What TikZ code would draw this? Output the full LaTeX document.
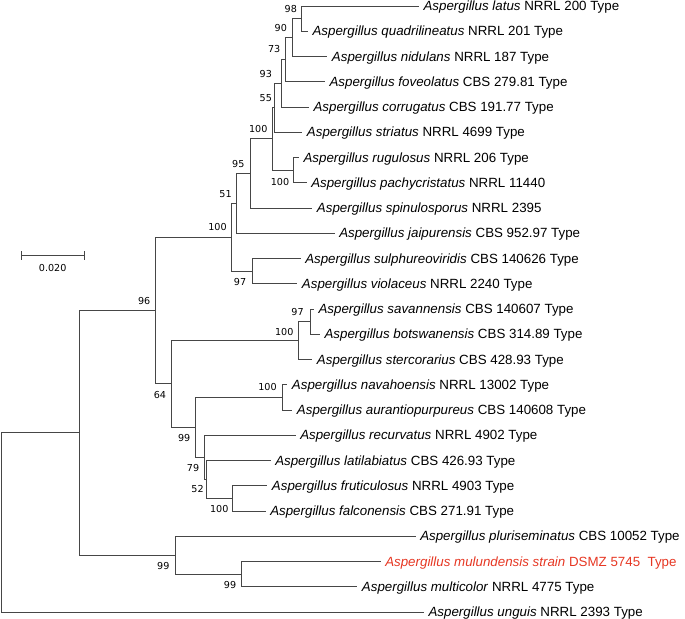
\documentclass[tikz,border=0pt]{standalone}
\usepackage{fontspec}
\setmainfont{Liberation Sans}
\newfontfamily\lblfont{DejaVu Sans}
\definecolor{mred}{RGB}{230,55,35}
\definecolor{branch}{RGB}{70,70,70}
\begin{document}
\begin{tikzpicture}[x=0.75pt,y=-0.75pt,
  br/.style={draw=branch,line width=0.75pt,line cap=rect},
  taxon/.style={anchor=base west,inner sep=0pt,font=\fontsize{10}{12}\selectfont},
  bs/.style={inner sep=0pt,font=\lblfont\fontsize{7.2}{8}\selectfont}]
\useasboundingbox (0,0) rectangle (685,618);
% leaf ends
\coordinate (L1) at (418.3,6);
\coordinate (L2) at (307.3,31.25);
\coordinate (L3) at (326.7,56.5);
\coordinate (L4) at (324.3,81.75);
\coordinate (L5) at (308.3,107);
\coordinate (L6) at (301.7,132.25);
\coordinate (L7) at (298.3,157.5);
\coordinate (L8) at (306,182.75);
\coordinate (L9) at (311.7,208);
\coordinate (L10) at (334,233.25);
\coordinate (L11) at (300,258.5);
\coordinate (L12) at (296.7,283.75);
\coordinate (L13) at (313.3,309);
\coordinate (L14) at (319.3,334.25);
\coordinate (L15) at (311.7,359.5);
\coordinate (L16) at (286.7,384.75);
\coordinate (L17) at (291.7,410);
\coordinate (L18) at (295,435.25);
\coordinate (L19) at (270,460.5);
\coordinate (L20) at (266.7,485.75);
\coordinate (L21) at (265,511);
\coordinate (L22) at (415,536.25);
\coordinate (L23) at (380,561.5);
\coordinate (L24) at (356.7,586.75);
\coordinate (L25) at (423.3,612);
% internal nodes (x, stem y)
\coordinate (A) at (301.7,18.625);
\coordinate (B) at (292.7,37.56);
\coordinate (C) at (285.7,59.66);
\coordinate (D) at (281.7,83.33);
\coordinate (E) at (274.3,107.79);
\coordinate (G) at (293.3,170.125);
\coordinate (F) at (272.7,138.96);
\coordinate (N95) at (250,173.48);
\coordinate (N51) at (236.7,203.36);
\coordinate (N97a) at (252,271.125);
\coordinate (N100a) at (231.3,237.24);
\coordinate (N97b) at (310,321.625);
\coordinate (N100b) at (298,340.56);
\coordinate (N100c) at (282.7,397.375);
\coordinate (N100d) at (232.7,498.375);
\coordinate (N52) at (206,479.44);
\coordinate (N79) at (204.3,457.34);
\coordinate (N99a) at (195.7,427.36);
\coordinate (N64) at (171.7,383.96);
\coordinate (N96) at (155.7,310.6);
\coordinate (N99c) at (241.7,574.125);
\coordinate (N99b) at (175.7,555.19);
\coordinate (Ning) at (79.3,432.9);
\coordinate (Root) at (1.5,522.45);
% branches
\draw[br] (A) |- (L1); \draw[br] (A) |- (L2);
\draw[br] (B) |- (A); \draw[br] (B) |- (L3);
\draw[br] (C) |- (B); \draw[br] (C) |- (L4);
\draw[br] (D) |- (C); \draw[br] (D) |- (L5);
\draw[br] (E) |- (D); \draw[br] (E) |- (L6);
\draw[br] (G) |- (L7); \draw[br] (G) |- (L8);
\draw[br] (F) |- (E); \draw[br] (F) |- (G);
\draw[br] (N95) |- (F); \draw[br] (N95) |- (L9);
\draw[br] (N51) |- (N95); \draw[br] (N51) |- (L10);
\draw[br] (N97a) |- (L11); \draw[br] (N97a) |- (L12);
\draw[br] (N100a) |- (N51); \draw[br] (N100a) |- (N97a);
\draw[br] (N97b) |- (L13); \draw[br] (N97b) |- (L14);
\draw[br] (N100b) |- (N97b); \draw[br] (N100b) |- (L15);
\draw[br] (N100c) |- (L16); \draw[br] (N100c) |- (L17);
\draw[br] (N100d) |- (L20); \draw[br] (N100d) |- (L21);
\draw[br] (N52) |- (L19); \draw[br] (N52) |- (N100d);
\draw[br] (N79) |- (L18); \draw[br] (N79) |- (N52);
\draw[br] (N99a) |- (N100c); \draw[br] (N99a) |- (N79);
\draw[br] (N64) |- (N100b); \draw[br] (N64) |- (N99a);
\draw[br] (N96) |- (N100a); \draw[br] (N96) |- (N64);
\draw[br] (N99c) |- (L23); \draw[br] (N99c) |- (L24);
\draw[br] (N99b) |- (L22); \draw[br] (N99b) |- (N99c);
\draw[br] (Ning) |- (N96); \draw[br] (Ning) |- (N99b);
\draw[br] (Root) |- (Ning); \draw[br] (Root) |- (L25);
% taxon labels
\node[taxon] (t1) at (423.3,10.6) {\textit{Aspergillus latus} NRRL 200 Type};
\node[taxon] (t2) at (312.3,35.85) {\textit{Aspergillus quadrilineatus} NRRL 201 Type};
\node[taxon] (t3) at (331.7,61.1) {\textit{Aspergillus nidulans} NRRL 187 Type};
\node[taxon] (t4) at (329.3,86.35) {\textit{Aspergillus foveolatus} CBS 279.81 Type};
\node[taxon] (t5) at (313.3,111.6) {\textit{Aspergillus corrugatus} CBS 191.77 Type};
\node[taxon] (t6) at (306.7,136.85) {\textit{Aspergillus striatus} NRRL 4699 Type};
\node[taxon] (t7) at (303.3,162.1) {\textit{Aspergillus rugulosus} NRRL 206 Type};
\node[taxon] (t8) at (311,187.35) {\textit{Aspergillus pachycristatus} NRRL 11440};
\node[taxon] (t9) at (316.7,212.6) {\textit{Aspergillus spinulosporus} NRRL 2395};
\node[taxon] (t10) at (339,237.85) {\textit{Aspergillus jaipurensis} CBS 952.97 Type};
\node[taxon] (t11) at (305,263.1) {\textit{Aspergillus sulphureoviridis} CBS 140626 Type};
\node[taxon] (t12) at (301.7,288.35) {\textit{Aspergillus violaceus} NRRL 2240 Type};
\node[taxon] (t13) at (318.3,313.6) {\textit{Aspergillus savannensis} CBS 140607 Type};
\node[taxon] (t14) at (324.3,338.85) {\textit{Aspergillus botswanensis} CBS 314.89 Type};
\node[taxon] (t15) at (316.7,364.1) {\textit{Aspergillus stercorarius} CBS 428.93 Type};
\node[taxon] (t16) at (291.7,389.35) {\textit{Aspergillus navahoensis} NRRL 13002 Type};
\node[taxon] (t17) at (296.7,414.6) {\textit{Aspergillus aurantiopurpureus} CBS 140608 Type};
\node[taxon] (t18) at (300,439.85) {\textit{Aspergillus recurvatus} NRRL 4902 Type};
\node[taxon] (t19) at (275,465.1) {\textit{Aspergillus latilabiatus} CBS 426.93 Type};
\node[taxon] (t20) at (271.7,490.35) {\textit{Aspergillus fruticulosus} NRRL 4903 Type};
\node[taxon] (t21) at (270,515.6) {\textit{Aspergillus falconensis} CBS 271.91 Type};
\node[taxon] (t22) at (420,540.85) {\textit{Aspergillus pluriseminatus} CBS 10052 Type};
\node[taxon,text=mred] (t23) at (385,566.1) {\textit{Aspergillus mulundensis strain} DSMZ 5745\ \ Type};
\node[taxon] (t24) at (361.7,591.35) {\textit{Aspergillus multicolor} NRRL 4775 Type};
\node[taxon] (t25) at (428.3,616.6) {\textit{Aspergillus unguis} NRRL 2393 Type};
% bootstrap values
\node[bs] (bA) at (290.8,9.3) {98};
\node[bs] (bB) at (280.8,28.3) {90};
\node[bs] (bC) at (274.2,49.3) {73};
\node[bs] (bD) at (265.8,74) {93};
\node[bs] (bE) at (265.8,98.3) {55};
\node[bs] (bF) at (258.3,129.3) {100};
\node[bs] (bG) at (280,181.7) {100};
\node[bs] (b95) at (238.3,163.5) {95};
\node[bs] (b51) at (225.5,194.5) {51};
\node[bs] (b100a) at (217.5,226.9) {100};
\node[bs] (b97a) at (240,281.7) {97};
\node[bs] (b96) at (144.2,300.5) {96};
\node[bs] (b64) at (160,395) {64};
\node[bs] (b100b) at (284.2,331.5) {100};
\node[bs] (b97b) at (297.5,311.7) {97};
\node[bs] (b100c) at (267.5,387.3) {100};
\node[bs] (b99a) at (184.2,437.8) {99};
\node[bs] (b79) at (193,467.7) {79};
\node[bs] (b52) at (197.5,489.3) {52};
\node[bs] (b100d) at (219.2,508.8) {100};
\node[bs] (b99b) at (163.3,565.5) {99};
\node[bs] (b99c) at (230,585.3) {99};
% scale bar
\coordinate (sb1) at (21,255.7);
\coordinate (sb2) at (84.3,255.7);
\draw[br] (sb1) -- (sb2);
\draw[br] (sb1) ++(0,-4) -- ++(0,8);
\draw[br] (sb2) ++(0,-4) -- ++(0,8);
\node[bs] (sbl) at (52.7,268.3) {0.020};
\end{tikzpicture}
\end{document}
